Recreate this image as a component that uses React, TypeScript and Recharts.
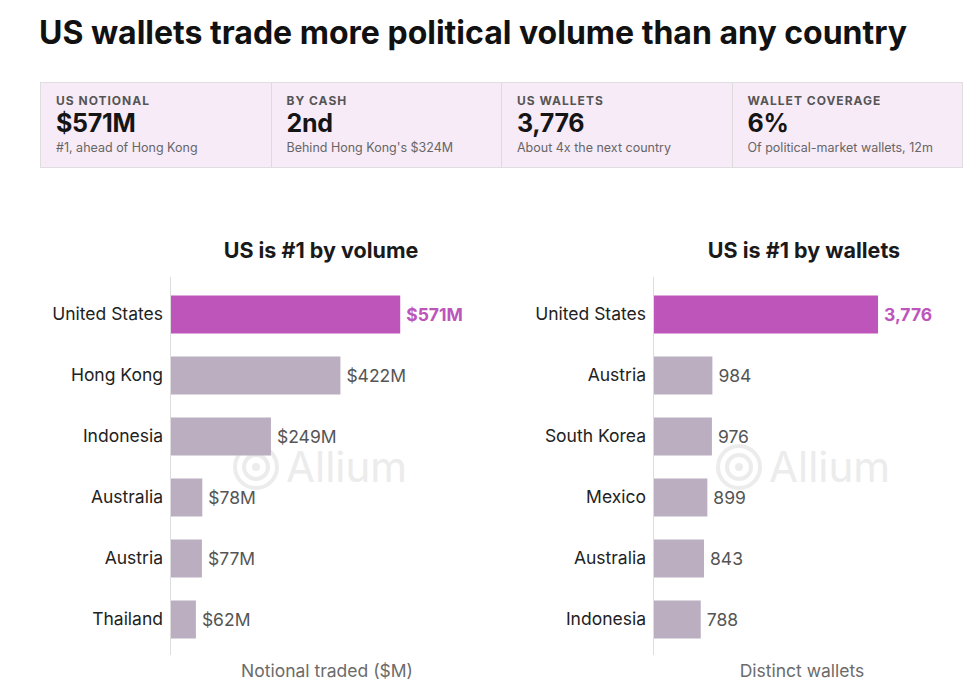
import React from "react";
import { BarChart, Bar, XAxis, YAxis, Cell, LabelList } from "recharts";

const volumeCountries = ["United States", "Hong Kong", "Indonesia", "Australia", "Austria", "Thailand"];
const volumeValues = [571, 422, 249, 78, 77, 62];

const walletCountries = ["United States", "Austria", "South Korea", "Mexico", "Australia", "Indonesia"];
const walletValues = [3776, 984, 976, 899, 843, 788];

const statLabels = ["US NOTIONAL", "BY CASH", "US WALLETS", "WALLET COVERAGE"];
const statValues = ["$571M", "2nd", "3,776", "6%"];
const statNotes = [
  "#1, ahead of Hong Kong",
  "Behind Hong Kong's $324M",
  "About 4x the next country",
  "Of political-market wallets, 12m",
];

const FONT = "Inter, 'Noto Sans', sans-serif";
const HIGHLIGHT = "#bd55bb";
const MUTED = "#baaec0";

const volumeData = volumeCountries.map((name, i) => ({ name, value: volumeValues[i] }));
const walletData = walletCountries.map((name, i) => ({ name, value: walletValues[i] }));

const makeLabel = (fmt: (v: number) => string) => (props: any) => {
  const { x, y, width, height, value, index } = props;
  const first = index === 0;
  return (
    <text
      x={x + width + 6}
      y={y + height / 2}
      dy="0.35em"
      fontSize={17.5}
      fontFamily={FONT}
      fontWeight={first ? 700 : 400}
      fill={first ? HIGHLIGHT : "#555"}
    >
      {fmt(value)}
    </text>
  );
};

// faint logo + wordmark sitting behind the bars
const Watermark = ({ left, top }: { left: number; top: number }) => (
  <svg
    style={{ position: "absolute", left, top, pointerEvents: "none" }}
    width={190}
    height={50}
    viewBox="0 0 190 50"
  >
    <circle cx="24" cy="25" r="21" fill="none" stroke="#ececec" strokeWidth="4" />
    <circle cx="24" cy="25" r="12" fill="none" stroke="#ececec" strokeWidth="4" />
    <circle cx="24" cy="25" r="4" fill="#ececec" />
    <text x={54} y={40} fontFamily={FONT} fontSize={42} fill="#ececec">
      Allium
    </text>
  </svg>
);

type PanelProps = {
  left: number;
  width: number;
  axisWidth: number;
  marginRight: number;
  max: number;
  data: { name: string; value: number }[];
  fmt: (v: number) => string;
  title: string;
  axisLabel: string;
  labelShift: number;
};

const Panel = ({ left, width, axisWidth, marginRight, max, data, fmt, title, axisLabel, labelShift }: PanelProps) => {
  const axisX = left + axisWidth;
  return (
    <>
      <div
        style={{
          position: "absolute",
          left: axisX - 1,
          top: 277,
          width: 1,
          height: 378,
          background: "#dddddd",
        }}
      />
      <Watermark left={axisX + 61} top={442} />
      <div style={{ position: "absolute", left, top: 0 }}>
        <BarChart
          width={width}
          height={691}
          data={data}
          layout="vertical"
          margin={{ top: 283.5, bottom: 41.5, left: 0, right: marginRight }}
        >
          <XAxis type="number" domain={[0, max]} hide />
          <YAxis
            type="category"
            dataKey="name"
            width={axisWidth}
            axisLine={false}
            tickLine={false}
            tick={{ fontSize: 17.5, fill: "#222", fontFamily: FONT }}
          />
          <Bar dataKey="value" barSize={38} isAnimationActive={false}>
            {data.map((d, i) => (
              <Cell key={d.name} fill={i === 0 ? HIGHLIGHT : MUTED} />
            ))}
            <LabelList dataKey="value" content={makeLabel(fmt)} />
          </Bar>
        </BarChart>
      </div>
      <div
        style={{
          position: "absolute",
          left: axisX - 100,
          width: 500,
          top: 237,
          textAlign: "center",
          fontFamily: FONT,
          fontWeight: 700,
          fontSize: 21.5,
          color: "#1a1a1a",
        }}
      >
        {title}
      </div>
      <div
        style={{
          position: "absolute",
          left: axisX - 250 + labelShift,
          width: 500,
          top: 660,
          textAlign: "center",
          fontFamily: FONT,
          fontSize: 17.5,
          color: "#6b6b6b",
        }}
      >
        {axisLabel}
      </div>
    </>
  );
};

export default function App() {
  return (
    <div
      style={{
        position: "absolute",
        left: 0,
        top: 0,
        width: 976,
        height: 691,
        background: "#fff",
        overflow: "hidden",
        fontFamily: FONT,
      }}
    >
      <div
        style={{
          position: "absolute",
          left: 39,
          top: 13,
          fontSize: 32,
          fontWeight: 700,
          letterSpacing: 0,
          color: "#111",
          whiteSpace: "nowrap",
        }}
      >
        US wallets trade more political volume than any country
      </div>

      <div
        style={{
          position: "absolute",
          left: 40,
          top: 82,
          width: 923,
          height: 86,
          display: "flex",
          border: "1px solid #dedede",
          background: "#f8ebf8",
          boxSizing: "border-box",
        }}
      >
        {statLabels.map((label, i) => (
          <div
            key={label}
            style={{
              flex: 1,
              padding: "10px 15px",
              borderLeft: i === 0 ? "none" : "1px solid #dcdcdc",
            }}
          >
            <div style={{ fontSize: 12, fontWeight: 700, letterSpacing: 1, color: "#555" }}>
              {label}
            </div>
            <div style={{ fontSize: 25, fontWeight: 700, color: "#151515", lineHeight: "30px", letterSpacing: -0.3 }}>
              {statValues[i]}
            </div>
            <div style={{ fontSize: 12.5, color: "#666", marginTop: 2 }}>{statNotes[i]}</div>
          </div>
        ))}
      </div>

      <Panel
        left={0}
        width={480}
        axisWidth={171}
        marginRight={28}
        max={700}
        data={volumeData}
        fmt={(v) => `$${v}M`}
        title="US is #1 by volume"
        axisLabel="Notional traded ($M)"
        labelShift={156}
      />
      <Panel
        left={480}
        width={496}
        axisWidth={174}
        marginRight={55}
        max={4500}
        data={walletData}
        fmt={(v) => v.toLocaleString("en-US")}
        title="US is #1 by wallets"
        axisLabel="Distinct wallets"
        labelShift={148}
      />
    </div>
  );
}
